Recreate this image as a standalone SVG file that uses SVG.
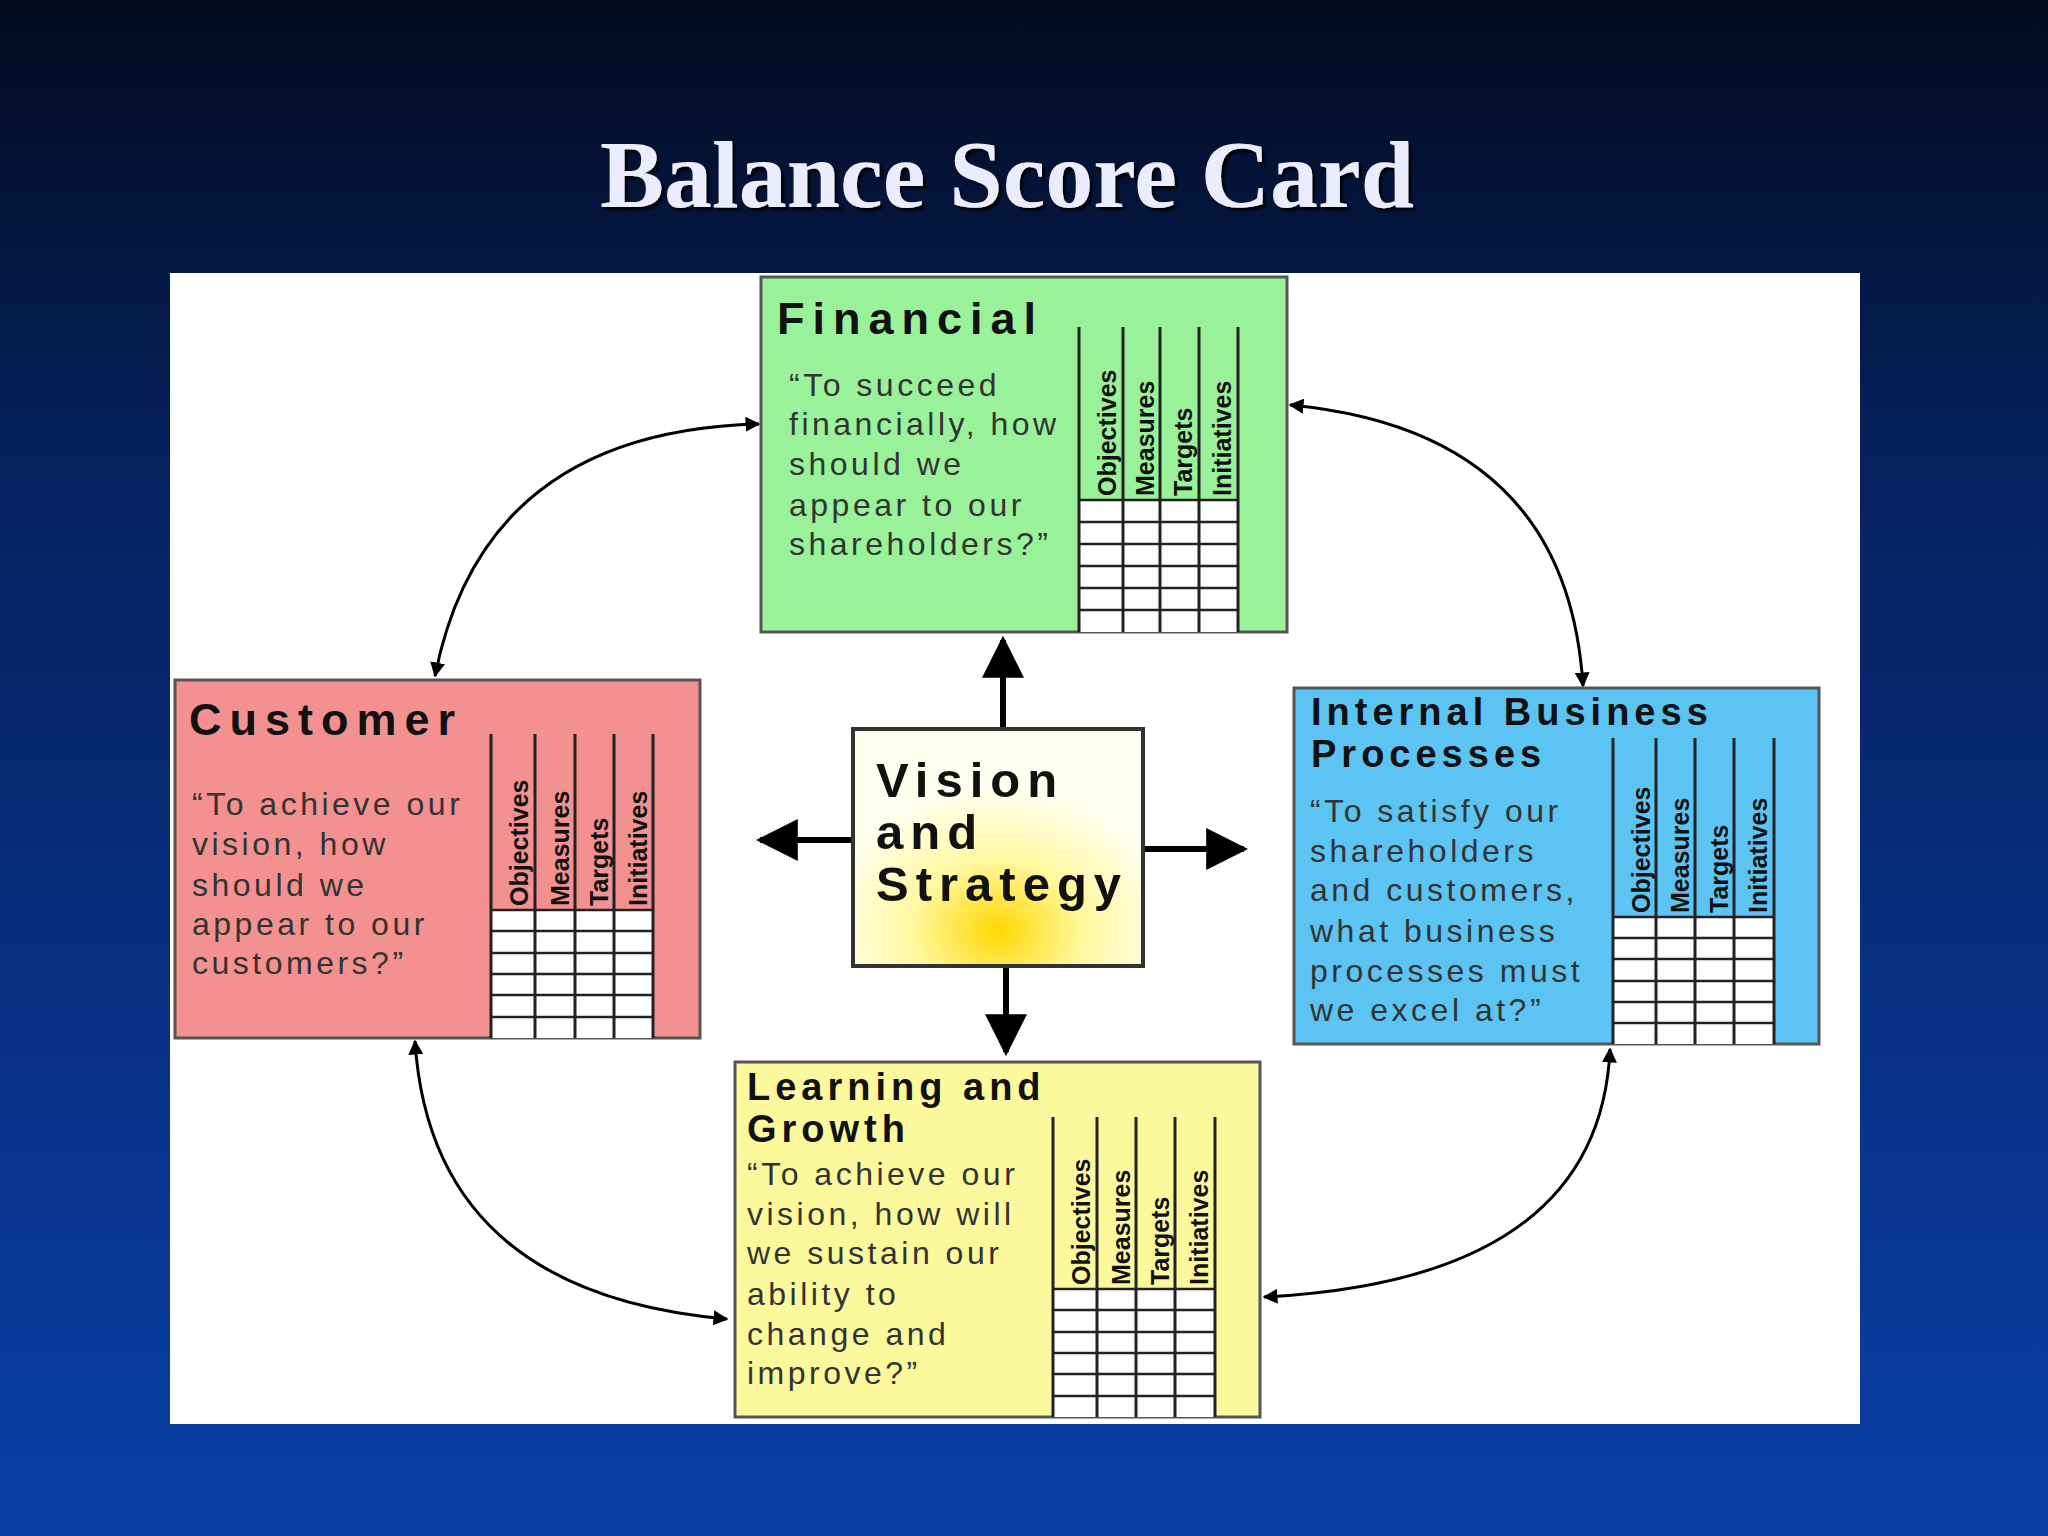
<svg xmlns="http://www.w3.org/2000/svg" width="2048" height="1536" viewBox="0 0 2048 1536">
<defs>
<linearGradient id="bg" x1="0" y1="0" x2="0" y2="1">
<stop offset="0" stop-color="#020b1e"/><stop offset="0.3" stop-color="#06215e"/><stop offset="1" stop-color="#0a3fa8"/>
</linearGradient>
<radialGradient id="vis" cx="0.5" cy="0.85" r="0.6">
<stop offset="0" stop-color="#ffd800"/><stop offset="0.5" stop-color="#fff8a0"/><stop offset="1" stop-color="#fffff0"/>
</radialGradient>
<marker id="ah" viewBox="0 0 10 10" refX="9" refY="5" markerWidth="5" markerHeight="5" orient="auto-start-reverse"><path d="M0,0 L10,5 L0,10 z" fill="#000"/></marker>
<marker id="bh" viewBox="0 0 10 10" refX="9" refY="5" markerWidth="7" markerHeight="7" orient="auto"><path d="M0,0 L10,5 L0,10 z" fill="#000"/></marker>
<filter id="sh"><feDropShadow dx="3" dy="3" stdDeviation="1" flood-color="#000" flood-opacity="0.9"/></filter>
</defs>
<style>
.card{stroke:#555;stroke-width:3}
.ttl{font-family:"Liberation Sans",Arial,sans-serif;font-weight:bold;font-size:45px;fill:#111;letter-spacing:8px}
.ttl2{font-family:"Liberation Sans",Arial,sans-serif;font-weight:bold;font-size:38px;fill:#111;letter-spacing:5px}
.vt{font-family:"Liberation Sans",Arial,sans-serif;font-weight:bold;font-size:49px;fill:#111;letter-spacing:7px}
.q{font-family:"Liberation Sans",Arial,sans-serif;font-size:32px;fill:#333;letter-spacing:3.5px}
.col{font-family:"Liberation Sans",Arial,sans-serif;font-weight:bold;font-size:25px;fill:#111}
.grid{stroke:#222;stroke-width:3;fill:none}
.thin{stroke:#222;stroke-width:2.5}
.conn{stroke:#000;fill:none;stroke-width:3;marker-start:url(#ah);marker-end:url(#ah)}
.big{stroke:#000;fill:none;stroke-width:6;marker-end:url(#bh)}
</style>
<rect width="2048" height="1536" fill="url(#bg)"/>
<text x="1007" y="207" text-anchor="middle" font-family="Liberation Serif,serif" font-weight="bold" font-size="96" fill="#ececff" filter="url(#sh)">Balance Score Card</text>
<rect x="170" y="273" width="1690" height="1151" fill="#fff"/>

<g id="connectors">
<path class="conn" d="M759 424 Q483 431 435 676"/>
<path class="conn" d="M1290 405 Q1567 431 1583 686"/>
<path class="conn" d="M415 1041 Q431 1293 727 1319"/>
<path class="conn" d="M1610 1049 Q1600 1280 1264 1297"/>
<path class="big" d="M1003 729 L1003 640"/>
<path class="big" d="M853 840 L760 840"/>
<path class="big" d="M1143 849 L1244 849"/>
<path class="big" d="M1006 966 L1006 1052"/>
</g>

<g id="financial">
<rect class="card" x="761" y="277" width="526" height="355" fill="#99f299"/>
<text class="ttl" x="777" y="334">Financial</text>
<text class="q" x="789" y="396">“To succeed</text><text class="q" x="789" y="435">financially, how</text><text class="q" x="789" y="475">should we</text><text class="q" x="789" y="516">appear to our</text><text class="q" x="789" y="555">shareholders?”</text>
<rect x="1079" y="500" width="159" height="132" fill="#fff"/>
<path class="grid" d="M1079 327V632M1123 327V632M1160 327V632M1199 327V632M1238 327V632"/>
<path class="thin" d="M1079 500H1238M1079 522H1238M1079 544H1238M1079 566H1238M1079 588H1238M1079 610H1238"/>
<text class="col" transform="translate(1116 496) rotate(-90)">Objectives</text>
<text class="col" transform="translate(1154 496) rotate(-90)">Measures</text>
<text class="col" transform="translate(1192 496) rotate(-90)">Targets</text>
<text class="col" transform="translate(1231 496) rotate(-90)">Initiatives</text>
</g>

<g id="customer">
<rect class="card" x="175" y="680" width="525" height="358" fill="#f2918f"/>
<text class="ttl" x="189" y="735">Customer</text>
<text class="q" x="192" y="815">“To achieve our</text><text class="q" x="192" y="855">vision, how</text><text class="q" x="192" y="896">should we</text><text class="q" x="192" y="935">appear to our</text><text class="q" x="192" y="974">customers?”</text>
<rect x="491" y="910" width="162" height="128" fill="#fff"/>
<path class="grid" d="M491 734V1038M535 734V1038M575 734V1038M614 734V1038M653 734V1038"/>
<path class="thin" d="M491 910H653M491 931H653M491 953H653M491 974H653M491 995H653M491 1017H653"/>
<text class="col" transform="translate(528 906) rotate(-90)">Objectives</text>
<text class="col" transform="translate(569 906) rotate(-90)">Measures</text>
<text class="col" transform="translate(608 906) rotate(-90)">Targets</text>
<text class="col" transform="translate(647 906) rotate(-90)">Initiatives</text>
</g>

<g id="internal">
<rect class="card" x="1294" y="688" width="525" height="356" fill="#5cc4f2"/>
<text class="ttl2" x="1311" y="725">Internal Business</text>
<text class="ttl2" x="1311" y="767">Processes</text>
<text class="q" x="1310" y="822">“To satisfy our</text><text class="q" x="1310" y="862">shareholders</text><text class="q" x="1310" y="901">and customers,</text><text class="q" x="1310" y="942">what business</text><text class="q" x="1310" y="982">processes must</text><text class="q" x="1310" y="1021">we excel at?”</text>
<rect x="1613" y="917" width="161" height="127" fill="#fff"/>
<path class="grid" d="M1613 738V1044M1656 738V1044M1695 738V1044M1734 738V1044M1774 738V1044"/>
<path class="thin" d="M1613 917H1774M1613 938H1774M1613 959H1774M1613 981H1774M1613 1002H1774M1613 1023H1774"/>
<text class="col" transform="translate(1650 913) rotate(-90)">Objectives</text>
<text class="col" transform="translate(1689 913) rotate(-90)">Measures</text>
<text class="col" transform="translate(1728 913) rotate(-90)">Targets</text>
<text class="col" transform="translate(1767 913) rotate(-90)">Initiatives</text>
</g>

<g id="learning">
<rect class="card" x="735" y="1062" width="525" height="355" fill="#fbf99b"/>
<text class="ttl2" x="747" y="1100">Learning and</text>
<text class="ttl2" x="747" y="1142">Growth</text>
<text class="q" x="747" y="1185">“To achieve our</text><text class="q" x="747" y="1225">vision, how will</text><text class="q" x="747" y="1264">we sustain our</text><text class="q" x="747" y="1305">ability to</text><text class="q" x="747" y="1345">change and</text><text class="q" x="747" y="1384">improve?”</text>
<rect x="1053" y="1289" width="162" height="128" fill="#fff"/>
<path class="grid" d="M1053 1117V1417M1097 1117V1417M1136 1117V1417M1175 1117V1417M1215 1117V1417"/>
<path class="thin" d="M1053 1289H1215M1053 1310H1215M1053 1332H1215M1053 1353H1215M1053 1374H1215M1053 1396H1215"/>
<text class="col" transform="translate(1090 1285) rotate(-90)">Objectives</text>
<text class="col" transform="translate(1130 1285) rotate(-90)">Measures</text>
<text class="col" transform="translate(1169 1285) rotate(-90)">Targets</text>
<text class="col" transform="translate(1208 1285) rotate(-90)">Initiatives</text>
</g>

<g id="vision">
<rect x="853" y="729" width="290" height="237" fill="url(#vis)" stroke="#333" stroke-width="4"/>
<text class="vt" x="876" y="797">Vision</text>
<text class="vt" x="876" y="849">and</text>
<text class="vt" x="876" y="901">Strategy</text>
</g>
</svg>
